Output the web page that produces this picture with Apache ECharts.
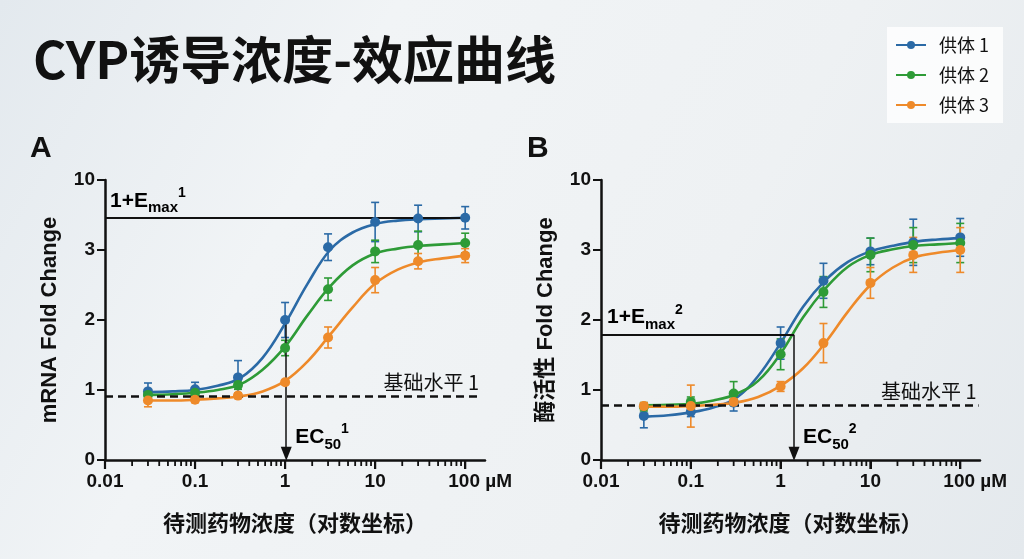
<!DOCTYPE html>
<html>
<head>
<meta charset="utf-8">
<title>CYP诱导浓度-效应曲线</title>
<script src="https://cdn.jsdelivr.net/npm/echarts@6/dist/echarts.min.js"></script>
<style>
  html, body { margin: 0; padding: 0; }
  #main { width: 1024px; height: 559px; }
</style>
</head>
<body>
<div id="main"></div>
<script>
(function () {
  'use strict';

  // concentrations (µM)
  var doses = [0.03, 0.1, 0.3, 1, 3, 10, 30, 100];
  var curveDoses = [0.0316, 0.0562, 0.1, 0.178, 0.316, 0.562, 1, 1.78, 3.16, 5.62, 10, 17.8, 31.6, 56.2, 100];
  var xTickLabels = ['0.01', '0.1', '1', '10', '100'];
  var yTickLabels = ['0', '1', '2', '3', '10'];
  var donors = ['供体 1', '供体 2', '供体 3'];
  var colors = ['#2b6aa6', '#2e9b37', '#ee8a2a'];

  // A: mRNA fold change
  var mrnaMean1 = [0.98, 1.01, 1.18, 2.00, 3.04, 3.40, 3.45, 3.46];
  var mrnaErr1  = [0.12, 0.10, 0.24, 0.25, 0.19, 0.28, 0.19, 0.16];
  var mrnaMean2 = [0.93, 0.96, 1.07, 1.60, 2.44, 2.98, 3.07, 3.10];
  var mrnaErr2  = [0.05, 0.05, 0.06, 0.11, 0.16, 0.16, 0.20, 0.14];
  var mrnaMean3 = [0.85, 0.86, 0.92, 1.11, 1.75, 2.57, 2.84, 2.92];
  var mrnaErr3  = [0.09, 0.04, 0.04, 0.03, 0.15, 0.18, 0.11, 0.10];
  var mrnaCurve1 = [0.97, 0.98, 1.00, 1.06, 1.17, 1.46, 1.95, 2.52, 3.00, 3.25, 3.37, 3.42, 3.44, 3.45, 3.46];
  var mrnaCurve2 = [0.93, 0.94, 0.96, 1.00, 1.08, 1.29, 1.62, 2.07, 2.48, 2.78, 2.95, 3.02, 3.06, 3.08, 3.10];
  var mrnaCurve3 = [0.85, 0.85, 0.86, 0.88, 0.91, 0.98, 1.13, 1.41, 1.79, 2.18, 2.52, 2.72, 2.83, 2.88, 2.92];

  // B: enzyme activity fold change
  var enzMean1 = [0.63, 0.69, 0.82, 1.67, 2.56, 2.98, 3.11, 3.18];
  var enzErr1  = [0.17, 0.07, 0.12, 0.23, 0.25, 0.19, 0.33, 0.27];
  var enzMean2 = [0.76, 0.83, 0.95, 1.51, 2.40, 2.93, 3.07, 3.10];
  var enzErr2  = [0.06, 0.07, 0.17, 0.22, 0.22, 0.24, 0.25, 0.28];
  var enzMean3 = [0.77, 0.77, 0.83, 1.05, 1.67, 2.53, 2.93, 3.00];
  var enzErr3  = [0.05, 0.30, 0.04, 0.07, 0.28, 0.22, 0.25, 0.32];
  var enzCurve1 = [0.62, 0.64, 0.68, 0.75, 0.88, 1.20, 1.67, 2.19, 2.57, 2.83, 2.98, 3.06, 3.12, 3.15, 3.17];
  var enzCurve2 = [0.78, 0.79, 0.80, 0.85, 0.94, 1.13, 1.52, 2.04, 2.45, 2.76, 2.93, 3.01, 3.06, 3.08, 3.10];
  var enzCurve3 = [0.76, 0.76, 0.77, 0.79, 0.82, 0.90, 1.06, 1.31, 1.68, 2.12, 2.50, 2.75, 2.90, 2.96, 3.00];

  // reference lines
  var emaxA = 3.46, baseA = 0.905, ec50A = 1.03, ec50TopA = 2.0;
  var emaxB = 1.79, baseB = 0.786, ec50B = 1.41;
  var baseEndA = 150, baseEndB = 160;
  var arrowEndY = 0.09;

  var FONT = '"Liberation Sans", "Noto Sans CJK SC", sans-serif';
  var CJK = '"Noto Sans CJK SC", sans-serif';
  var XMIN = -2, XMAX = Math.log10(166);
  var lg = Math.log10;
  var majorTicks = [-2, -1, 0, 1, 2];

  // log-axis minor ticks (2..9 x 10^d)
  var minorTicks = [];
  for (var d = -2; d < 2; d++) {
    for (var k = 2; k <= 9; k++) minorTicks.push(lg(k) + d);
  }

  function xAxis(grid) {
    return {
      type: 'value', gridIndex: grid, min: XMIN, max: XMAX, position: 'bottom',
      name: '待测药物浓度（对数坐标）', nameLocation: 'middle', nameGap: 52,
      nameTextStyle: { fontFamily: CJK, fontSize: 22, fontWeight: 'bold', color: '#111' },
      axisLine: { show: true, onZero: false, lineStyle: { color: '#111', width: 2.5 } },
      axisTick: { show: true, customValues: majorTicks, length: 9, lineStyle: { color: '#111', width: 2 } },
      axisLabel: {
        customValues: majorTicks, margin: 12,
        fontFamily: FONT, fontSize: 19, fontWeight: 'bold', color: '#111',
        formatter: function (v) {
          var s = xTickLabels[Math.round(v) + 2];
          return v > 1.5 ? '{pad|}' + s + ' µM' : s;
        },
        rich: { pad: { width: 30 } }
      },
      splitLine: { show: false }
    };
  }

  function yAxis(grid, name) {
    return {
      type: 'value', gridIndex: grid, min: 0, max: 4, position: 'left',
      name: name, nameLocation: 'middle', nameGap: 44,
      nameTextStyle: { fontFamily: FONT, fontSize: 22, fontWeight: 'bold', color: '#111' },
      axisLine: { show: true, onZero: false, lineStyle: { color: '#111', width: 2.5 } },
      axisTick: { show: true, customValues: [0, 1, 2, 3, 4], length: 8, lineStyle: { color: '#111', width: 2 } },
      axisLabel: {
        customValues: [0, 1, 2, 3, 4], margin: 10,
        fontFamily: FONT, fontSize: 19, fontWeight: 'bold', color: '#111',
        formatter: function (v) { return yTickLabels[Math.round(v)]; }
      },
      splitLine: { show: false }
    };
  }

  function errorBars(params, api) {
    var x = api.value(0), y = api.value(1), e = api.value(2);
    var top = api.coord([x, y + e]);
    var bot = api.coord([x, y - e]);
    var w = 4;
    var style = { stroke: api.visual('color'), lineWidth: 1.6 };
    return {
      type: 'group',
      children: [
        { type: 'line', shape: { x1: top[0], y1: top[1], x2: bot[0], y2: bot[1] }, style: style },
        { type: 'line', shape: { x1: top[0] - w, y1: top[1], x2: top[0] + w, y2: top[1] }, style: style },
        { type: 'line', shape: { x1: bot[0] - w, y1: bot[1], x2: bot[0] + w, y2: bot[1] }, style: style }
      ]
    };
  }

  function panelSeries(grid, means, errs, curves) {
    var out = [];
    for (var i = 0; i < 3; i++) {
      out.push({
        name: donors[i], type: 'line', xAxisIndex: grid, yAxisIndex: grid,
        data: curveDoses.map(function (c, j) { return [lg(c), curves[i][j]]; }),
        smooth: 0.4,
        symbol: 'circle', symbolSize: 9, showSymbol: false,
        lineStyle: { width: 2.6, color: colors[i] },
        itemStyle: { color: colors[i] },
        z: 3, silent: true
      });
      out.push({
        name: donors[i] + ' err', type: 'custom', xAxisIndex: grid, yAxisIndex: grid,
        data: doses.map(function (c, j) { return [lg(c), means[i][j], errs[i][j]]; }),
        renderItem: errorBars,
        itemStyle: { color: colors[i] },
        z: 4, silent: true
      });
      out.push({
        name: donors[i] + ' mean', type: 'scatter', xAxisIndex: grid, yAxisIndex: grid,
        data: doses.map(function (c, j) { return [lg(c), means[i][j]]; }),
        symbolSize: 10,
        itemStyle: { color: colors[i], opacity: 1 },
        z: 5, silent: true
      });
    }
    return out;
  }

  function refLines(grid, lines) {
    return {
      name: 'ref' + grid, type: 'line', xAxisIndex: grid, yAxisIndex: grid, data: [],
      z: 6, silent: true,
      markLine: {
        silent: true, animation: false, label: { show: false },
        symbol: ['none', 'none'],
        data: lines
      }
    };
  }

  function seg(x1, y1, x2, y2, style, arrow) {
    var a = { coord: [x1, y1], lineStyle: style };
    var b = { coord: [x2, y2] };
    if (arrow) {
      a.symbol = 'none';
      b.symbol = 'triangle';
      b.symbolSize = [11, 14];
    }
    return [a, b];
  }

  var solid = { color: '#111', width: 1.8, type: 'solid' };
  var dashed = { color: '#111', width: 2.5, type: [8, 5] };

  var series = []
    .concat(panelSeries(0, [mrnaMean1, mrnaMean2, mrnaMean3], [mrnaErr1, mrnaErr2, mrnaErr3], [mrnaCurve1, mrnaCurve2, mrnaCurve3]))
    .concat(panelSeries(1, [enzMean1, enzMean2, enzMean3], [enzErr1, enzErr2, enzErr3], [enzCurve1, enzCurve2, enzCurve3]));

  series.push(refLines(0, [
    seg(XMIN, emaxA, lg(100), emaxA, solid),
    seg(XMIN, baseA, lg(baseEndA), baseA, dashed),
    seg(lg(ec50A), ec50TopA, lg(ec50A), arrowEndY, { color: '#111', width: 1.5, type: 'solid' }, true)
  ]));
  series.push(refLines(1, [
    seg(XMIN, emaxB, lg(ec50B), emaxB, solid),
    seg(XMIN, baseB, lg(baseEndB), baseB, dashed),
    seg(lg(ec50B), emaxB, lg(ec50B), arrowEndY, { color: '#111', width: 1.5, type: 'solid' }, true)
  ]));

  var chart = echarts.init(document.getElementById('main'));

  chart.setOption({
    animation: false,
    backgroundColor: {
      type: 'linear', x: 0, y: 0, x2: 1, y2: 1,
      colorStops: [
        { offset: 0, color: '#e3e9ee' },
        { offset: 0.3, color: '#f1f4f6' },
        { offset: 0.65, color: '#eef1f3' },
        { offset: 1, color: '#e4e9ed' }
      ]
    },
    title: {
      text: 'CYP诱导浓度-效应曲线', left: 28, top: 29,
      textStyle: { fontFamily: CJK, fontSize: 51, fontWeight: 'bold', color: '#111' }
    },
    legend: {
      data: donors, orient: 'vertical', left: 887, top: 27,
      itemWidth: 30, itemHeight: 10, itemGap: 12,
      padding: [9, 14, 9, 8],
      backgroundColor: 'rgba(255,255,255,0.8)',
      textStyle: { fontFamily: CJK, fontSize: 18, color: '#111', padding: [0, 0, 0, 8] }
    },
    grid: [
      { left: 105, top: 180, width: 380, height: 280 },
      { left: 601, top: 180, width: 379, height: 280 }
    ],
    xAxis: [xAxis(0), xAxis(1)],
    yAxis: [yAxis(0, 'mRNA Fold Change'), yAxis(1, '酶活性 Fold Change')],
    series: series
  });

  var richLab = {
    b: { fontFamily: FONT, fontSize: 21, fontWeight: 'bold', color: '#111', lineHeight: 30 },
    s: { fontFamily: FONT, fontSize: 15, fontWeight: 'bold', color: '#111', lineHeight: 16, verticalAlign: 'bottom' },
    p: { fontFamily: FONT, fontSize: 14, fontWeight: 'bold', color: '#111', lineHeight: 14, verticalAlign: 'top' }
  };

  function px(grid, x, y) {
    return chart.convertToPixel({ xAxisIndex: grid, yAxisIndex: grid }, [x, y]);
  }

  function richText(pos, text, align, vAlign) {
    return {
      type: 'text', x: pos[0], y: pos[1], silent: true,
      style: { text: text, rich: richLab, align: align, verticalAlign: vAlign }
    };
  }

  function plainText(pos, text, align, vAlign, size, bold, family) {
    return {
      type: 'text', x: pos[0], y: pos[1], silent: true,
      style: {
        text: text, align: align, verticalAlign: vAlign, fill: '#111',
        fontFamily: family || FONT, fontSize: size, fontWeight: bold ? 'bold' : 'normal'
      }
    };
  }

  // ticks of the log axes, placed through the axis scale (thin filled bars)
  function tickMarks(grid, values, len, w) {
    return values.map(function (v) {
      var p = px(grid, v, 0);
      return {
        type: 'rect', silent: true, z: 100,
        shape: { x: p[0] - w / 2, y: p[1], width: w, height: len },
        style: { fill: '#111' }
      };
    });
  }

  var pEmaxA = px(0, XMIN, emaxA), pBaseA = px(0, lg(baseEndA), baseA), pEcA = px(0, lg(ec50A), 0);
  var pEmaxB = px(1, XMIN, emaxB), pBaseB = px(1, lg(baseEndB), baseB), pEcB = px(1, lg(ec50B), 0);

  chart.setOption({
    graphic: {
      elements: [
        plainText([30, 134], 'A', 'left', 'top', 30, true),
        plainText([527, 134], 'B', 'left', 'top', 30, true),
        richText([pEmaxA[0] + 5, pEmaxA[1] - 2], '{b|1+E}{s|max}{p|1}', 'left', 'bottom'),
        richText([pEmaxB[0] + 6, pEmaxB[1] - 2], '{b|1+E}{s|max}{p|2}', 'left', 'bottom'),
        richText([pEcA[0] + 9, pEcA[1] - 8], '{b|EC}{s|50}{p|1}', 'left', 'bottom'),
        richText([pEcB[0] + 9, pEcB[1] - 8], '{b|EC}{s|50}{p|2}', 'left', 'bottom'),
        plainText([pBaseA[0] - 2, pBaseA[1] - 4], '基础水平 1', 'right', 'bottom', 20, false, CJK),
        plainText([pBaseB[0] - 2, pBaseB[1] - 4], '基础水平 1', 'right', 'bottom', 20, false, CJK)
      ].concat(
        tickMarks(0, minorTicks, 6, 1.8), tickMarks(1, minorTicks, 6, 1.8),
        tickMarks(0, majorTicks, 9, 2.2), tickMarks(1, majorTicks, 9, 2.2)
      )
    }
  });
})();
</script>
</body>
</html>
